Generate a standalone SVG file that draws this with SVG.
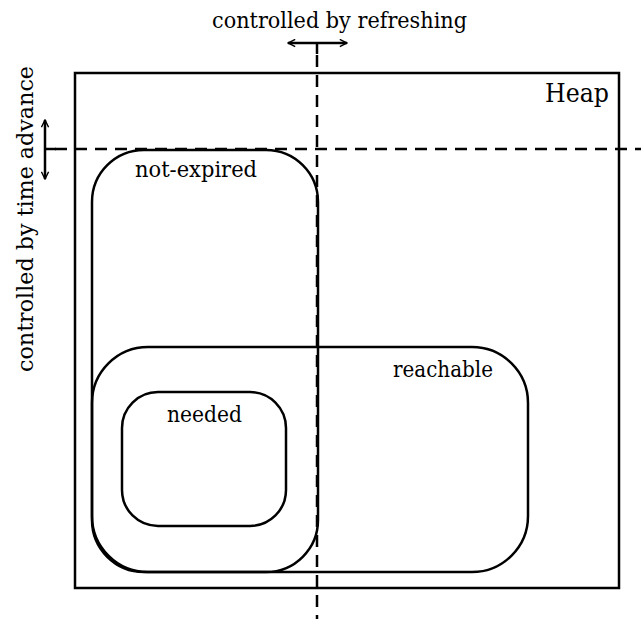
<svg xmlns="http://www.w3.org/2000/svg" width="641" height="619" viewBox="0 0 641 619">
<defs>
<marker id="ah" viewBox="0 0 10 10" refX="9" refY="5" markerWidth="9" markerHeight="9" orient="auto-start-reverse" markerUnits="userSpaceOnUse">
<path d="M1,1 L9,5 L1,9" fill="none" stroke="#000" stroke-width="1.6"/>
</marker>
<style>
.s{fill:none;stroke:#000;stroke-width:2.5}
.d{fill:none;stroke:#000;stroke-width:2.5;stroke-dasharray:12,8}
.t{font-family:'DejaVu Serif','Noto Serif',serif;font-size:22px;fill:#000}
.big{font-size:26px}
</style>
</defs>
<rect width="641" height="619" fill="#fff"/>
<g id="heap">
<rect class="s" x="75" y="73" width="544" height="515"/>
<text class="t big" x="545" y="102" textLength="64" lengthAdjust="spacingAndGlyphs">Heap</text>
</g>
<g id="not-expired">
<rect class="s" x="92" y="150" width="226" height="422" rx="52" ry="52"/>
<text class="t" x="135" y="177" textLength="122" lengthAdjust="spacingAndGlyphs">not-expired</text>
</g>
<g id="reachable">
<rect class="s" x="92" y="347" width="436" height="225" rx="56" ry="56"/>
<text class="t" x="393" y="377" textLength="100" lengthAdjust="spacingAndGlyphs">reachable</text>
</g>
<g id="needed">
<rect class="s" x="122" y="392" width="164" height="134" rx="36" ry="36"/>
<text class="t" x="167" y="422" textLength="75" lengthAdjust="spacingAndGlyphs">needed</text>
</g>
<g id="connectors">
<line class="d" x1="317" y1="55" x2="317" y2="619"/>
<line class="s" x1="317" y1="43" x2="317" y2="54"/>
<line class="s" x1="288" y1="43" x2="347" y2="43" marker-start="url(#ah)" marker-end="url(#ah)"/>
<line class="d" x1="55" y1="149" x2="641" y2="149"/>
<line class="s" x1="45" y1="149" x2="56" y2="149"/>
<line class="s" x1="45" y1="120" x2="45" y2="179" marker-start="url(#ah)" marker-end="url(#ah)"/>
</g>
<text class="t" x="212" y="28" textLength="255" lengthAdjust="spacingAndGlyphs">controlled by refreshing</text>
<text class="t" transform="translate(33,372) rotate(-90)" x="0" y="0" textLength="306" lengthAdjust="spacingAndGlyphs">controlled by time advance</text>
</svg>
